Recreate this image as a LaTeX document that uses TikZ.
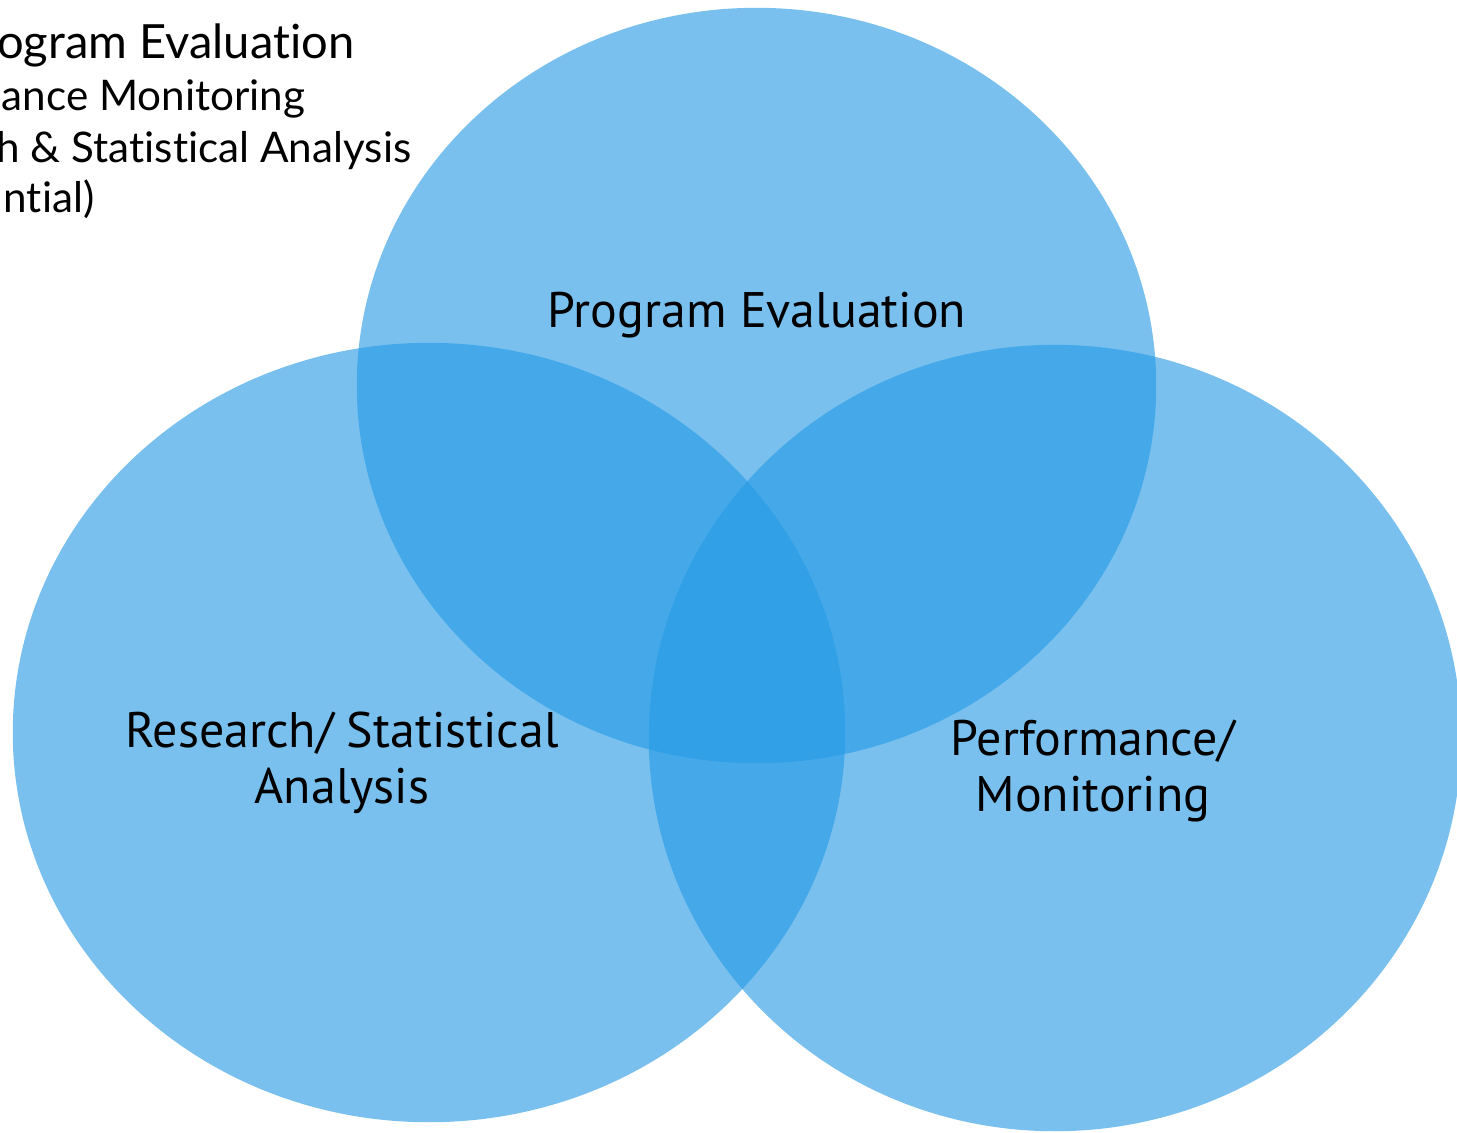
\documentclass[tikz,border=0pt]{standalone}
\usepackage{fontspec}
\setmainfont[Ligatures=NoCommon]{Lato}
\newfontfamily\labelfont{PT Sans}
\usetikzlibrary{shapes.geometric}

\definecolor{setblue}{RGB}{38,154,229}

\begin{document}
\begin{tikzpicture}[x=0.01cm,y=-0.01cm,
    set node/.style={ellipse,inner sep=0pt,fill=setblue,fill opacity=0.62,draw=none},
    set label/.style={font=\labelfont\fontsize{14.2}{15.9}\selectfont,align=center,text=black},
    list line/.style={anchor=base east,inner sep=0pt,font=\fontsize{12}{14}\selectfont}]
    \useasboundingbox (0,0) rectangle (1457,1132);
    \clip (0,0) rectangle (1457,1132);

    % the three sets
    \node[set node,minimum width=7.99cm,minimum height=7.55cm] (eval) at (756.5,385.5) {};
    \node[set node,minimum width=8.32cm,minimum height=7.79cm] (research) at (429,732.5) {};
    \node[set node,minimum width=8.12cm,minimum height=7.86cm] (perf) at (1055,738) {};

    \node[set label] (evallabel) at (757,315) {Program Evaluation};
    \node[set label] (researchlabel) at (342,763) {Research/ Statistical\\Analysis};
    \node[set label] (perflabel) at (1093,771) {Performance/\\Monitoring};

    % list in the corner
    \node[list line,font=\fontsize{13.4}{15}\selectfont] (item1) at (355,58) {ogram Evaluation};
    \node[list line] (item2) at (306,110) {ance Monitoring};
    \node[list line] (item3) at (412,162) {h \& Statistical Analysis};
    \node[list line] (item4) at (95,212) {ntial)};
\end{tikzpicture}
\end{document}
